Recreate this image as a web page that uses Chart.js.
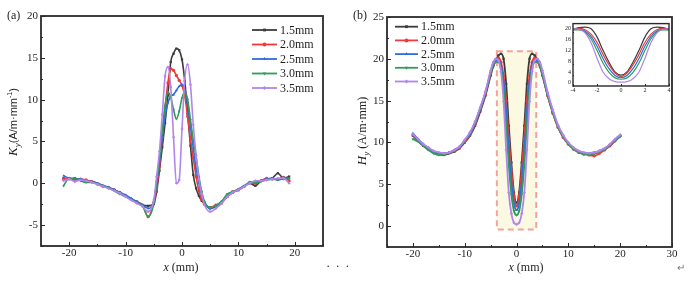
<!DOCTYPE html>
<html>
<head>
<meta charset="utf-8">
<script src="https://cdn.jsdelivr.net/npm/chart.js@4.4.0/dist/chart.umd.min.js"></script>
<style>
  html, body { margin: 0; padding: 0; background: #fff; }
  #wrap { position: relative; width: 700px; height: 288px; overflow: hidden; }
  .box { position: absolute; }
  .note { position: absolute; font-family: 'Liberation Serif', serif; color: #333; }
</style>
</head>
<body>
<div id="wrap">
  <div class="box" style="left:0;top:0"><canvas id="chartA" width="350" height="288"></canvas></div>
  <div class="box" style="left:350px;top:0"><canvas id="chartB" width="350" height="288"></canvas></div>
  <div class="box" style="left:555px;top:18px"><canvas id="chartInset" width="120" height="80"></canvas></div>
  <div class="note" style="left:326px;top:258px;font-size:13px;letter-spacing:1px">· · ·</div>
  <div class="note" style="left:677px;top:262px;font-size:10px;color:#777">↵</div>
</div>
<script>
// ---------- data ----------
const gaps = ['1.5mm', '2.0mm', '2.5mm', '3.0mm', '3.5mm'];

// (a) Ky vs x
const xA = [-21,-20,-19,-18,-17,-16,-15,-14,-13,-12,-11,-10,-9,-8,-7,-6,-5,
  -4.5,-4,-3.5,-3,-2.5,-2,-1.5,-1,-0.5,0,0.5,1,1.5,2,2.5,3,3.5,4,
  5,6,7,8,9,10,11,12,13,14,15,16,17,18,19];
const ky15 = [0.6,0.5,0.6,0.4,0.3,0.2,0.0,-0.3,-0.5,-0.8,-1.1,-1.5,-1.9,-2.3,-2.6,-2.7,-2.5,
  -1.0,1.5,4.3,7.2,10.5,14.5,15.5,16.1,15.9,14.8,12.2,8.3,4.5,1.0,-0.6,-1.5,-2.1,-2.5,
  -3.0,-2.8,-2.4,-1.6,-1.1,-0.8,-0.4,0.0,-0.3,0.3,0.5,0.6,1.2,0.6,0.8];
const ky20 = [0.5,0.6,0.4,0.5,0.4,0.2,-0.1,-0.4,-0.5,-0.8,-1.2,-1.5,-1.9,-2.2,-2.6,-4.0,-2.3,
  -0.5,2.0,5.5,9.0,12.0,13.7,13.5,12.9,12.3,11.7,10.4,8.0,5.3,3.0,0.8,-0.9,-1.9,-2.5,
  -2.9,-2.6,-2.3,-1.6,-1.0,-0.8,-0.4,0.1,0.0,0.3,0.6,0.5,0.5,0.7,0.3];
const ky25 = [0.9,0.6,0.5,0.5,0.3,0.2,0.0,-0.3,-0.5,-0.8,-1.1,-1.4,-1.8,-2.2,-2.6,-3.0,-2.2,
  0.0,2.5,5.5,8.0,9.6,10.4,10.6,11.1,11.6,11.8,11.2,9.5,6.8,4.2,1.8,0.0,-1.4,-2.3,
  -3.0,-2.7,-2.2,-1.5,-1.1,-0.7,-0.3,0.1,0.2,0.3,0.5,0.6,0.4,0.7,0.6];
const ky30 = [-0.3,0.6,0.6,0.3,0.1,0.1,-0.1,-0.3,-0.6,-0.9,-1.3,-1.6,-2.0,-2.3,-2.7,-4.0,-2.4,
  0.2,3.0,6.3,9.3,10.9,10.3,8.8,7.7,8.6,10.2,10.9,10.0,7.6,5.2,3.2,0.8,-1.0,-2.2,
  -2.9,-2.7,-2.2,-1.3,-1.0,-0.7,-0.4,0.1,0.1,0.2,0.4,0.5,0.4,0.5,0.5];
const ky35 = [0.3,0.5,0.2,0.4,0.3,0.1,-0.1,-0.4,-0.6,-0.9,-1.2,-1.6,-2.0,-2.4,-2.8,-3.4,-2.0,
  0.8,3.8,8.2,12.8,13.9,11.5,5.5,0.0,0.4,6.5,12.5,14.2,11.8,7.0,3.3,0.5,-1.3,-2.6,
  -3.4,-3.0,-2.4,-1.6,-1.1,-0.8,-0.4,0.0,0.3,0.3,0.4,0.5,0.6,0.6,0.0];
const xTicksA = [-20, -10, 0, 10, 20];
const yTicksA = [-5, 0, 5, 10, 15, 20];

// (b) Hy vs x
const xB = [-20,-19,-18,-17,-16,-15,-14,-13,-12,-11,-10,-9,-8,-7,-6,-5,
  -4.5,-4,-3.5,-3,-2.5,-2,-1.5,-1,-0.5,0,0.5,1,1.5,2,2.5,3,3.5,4,4.5,
  5,6,7,8,9,10,11,12,13,14,15,16,17,18,19,20];
const hy15 = [10.8,10.2,9.6,9.2,8.8,8.6,8.5,8.7,8.9,9.3,10.0,10.8,12.0,13.7,15.6,18.0,
  19.1,19.8,20.4,20.6,20.0,17.0,12.0,7.6,4.0,2.8,4.0,7.6,12.0,17.0,20.0,20.6,20.4,19.8,19.1,
  18.0,15.6,13.6,11.9,10.7,9.9,9.3,8.9,8.7,8.6,8.7,8.9,9.2,9.6,10.2,10.8];
const hy20 = [10.9,10.3,9.7,9.2,8.9,8.7,8.6,8.8,9.0,9.4,10.1,10.9,12.2,13.9,15.8,18.3,
  19.3,19.9,20.1,19.6,18.0,15.0,10.5,6.6,3.6,2.4,3.6,6.6,10.5,15.0,18.0,19.6,20.1,19.9,19.3,
  18.2,15.6,13.5,11.8,10.6,9.8,9.2,8.8,8.6,8.5,8.4,8.7,9.1,9.6,10.2,10.8];
const hy25 = [11.1,10.4,9.8,9.3,8.9,8.7,8.7,8.8,9.1,9.5,10.2,11.0,12.3,14.0,15.9,18.4,
  19.3,19.7,19.8,19.2,17.2,13.6,9.0,5.2,2.7,1.9,2.7,5.2,9.0,13.6,17.2,19.2,19.8,19.7,19.3,
  18.3,15.8,13.7,11.9,10.7,9.9,9.3,8.9,8.7,8.7,8.8,9.0,9.3,9.7,10.3,10.9];
const hy30 = [10.4,10.1,9.6,9.1,8.7,8.5,8.6,8.8,9.0,9.5,10.2,11.1,12.4,14.1,16.0,18.3,
  19.2,19.6,19.6,18.8,16.3,12.0,7.3,3.8,1.8,1.3,1.8,3.8,7.3,12.0,16.3,18.8,19.6,19.6,19.2,
  18.2,15.7,13.6,11.9,10.7,9.8,9.2,8.8,8.6,8.6,8.7,8.9,9.2,9.7,10.2,10.7];
const hy35 = [11.0,10.4,9.8,9.4,9.0,8.8,8.7,8.8,9.1,9.5,10.3,11.2,12.5,14.2,16.1,18.6,
  19.6,20.0,19.8,18.5,14.9,9.1,4.0,1.5,0.4,0.2,0.4,1.5,4.0,9.1,14.9,18.5,19.8,20.0,19.6,
  18.6,16.0,13.9,12.1,10.9,10.0,9.4,9.0,8.8,8.7,8.8,9.0,9.3,9.8,10.4,10.9];
const xTicksB = [-20, -10, 0, 10, 20, 30];
const yTicksB = [0, 5, 10, 15, 20, 25];
const zoomBoxX = [-3.8, 3.8];
const zoomBoxY = [-0.4, 20.9];
const xTicksInset = [-4, -2, 0, 2, 4];
const yTicksInset = [0, 4, 8, 12, 16, 20];

// ---------- style ----------
const colors = ['#3c3c3c', '#f03a3a', '#2b6fdc', '#2f9d5a', '#b385ec'];
const markers = ['rect', 'circle', 'triangle', 'triangle', 'rectRot'];
const markerRot = [0, 0, 0, 180, 0];
const serif = "'Liberation Serif', 'Times New Roman', serif";

Chart.defaults.font.family = serif;
Chart.defaults.color = '#1e1e1e';
Chart.defaults.animation = false;

const pts = (xs, ys) => xs.map((x, i) => ({ x, y: ys[i] }));

function makeSets(xs, list, radius, width) {
  return list.map((ys, i) => ({
    label: gaps[i],
    data: pts(xs, ys),
    borderColor: colors[i],
    backgroundColor: colors[i],
    borderWidth: width,
    pointStyle: markers[i],
    rotation: markerRot[i],
    pointRadius: radius,
    pointBorderWidth: 0,
    cubicInterpolationMode: 'monotone',
    order: 5 - i
  }));
}

// frame, inward ticks, titles, legend, zoom box
const decor = {
  id: 'decor',
  beforeDatasetsDraw(chart, args, o) {
    if (!o.box) return;
    const { ctx, scales: { x, y } } = chart;
    const l = x.getPixelForValue(o.box.x[0]), r = x.getPixelForValue(o.box.x[1]);
    const t = y.getPixelForValue(o.box.y[1]), b = y.getPixelForValue(o.box.y[0]);
    ctx.save();
    ctx.fillStyle = '#fcf9e2';
    ctx.fillRect(l, t, r - l, b - t);
    ctx.setLineDash([6, 4]);
    ctx.strokeStyle = '#f5a29c';
    ctx.lineWidth = 2;
    ctx.strokeRect(l, t, r - l, b - t);
    ctx.restore();
  },
  afterDraw(chart, args, o) {
    const { ctx, chartArea: a, scales: { x, y } } = chart;
    ctx.save();
    ctx.strokeStyle = '#2a2a2a';
    ctx.lineWidth = 1;
    const isMajor = (v, m) => Math.abs(v / m - Math.round(v / m)) < 1e-6;
    ctx.beginPath();
    for (let v = x.min; v <= x.max + 1e-9; v += o.xStep) {
      const px = Math.round(x.getPixelForValue(v)) + 0.5;
      const len = isMajor(v, o.xMajor) ? o.tick : o.tick / 2;
      ctx.moveTo(px, a.bottom); ctx.lineTo(px, a.bottom - len);
    }
    for (let v = y.min; v <= y.max + 1e-9; v += o.yStep) {
      const py = Math.round(y.getPixelForValue(v)) + 0.5;
      const len = isMajor(v, o.yMajor) ? o.tick : o.tick / 2;
      ctx.moveTo(a.left, py); ctx.lineTo(a.left + len, py);
    }
    ctx.stroke();
    ctx.lineWidth = o.frame;
    ctx.strokeRect(a.left, a.top, a.right - a.left, a.bottom - a.top);

    ctx.fillStyle = '#1e1e1e';
    if (o.tag) {
      ctx.font = '12px ' + serif;
      ctx.textBaseline = 'middle';
      ctx.textAlign = 'left';
      ctx.fillText(o.tag.text, o.tag.x, o.tag.y);
    }
    const drawParts = (parts) => {
      let w = 0;
      parts.forEach(p => { ctx.font = p[1]; w += ctx.measureText(p[0]).width; });
      let cx = -w / 2;
      ctx.textAlign = 'left';
      ctx.textBaseline = 'alphabetic';
      parts.forEach(p => {
        ctx.font = p[1];
        ctx.fillText(p[0], cx, 4 + (p[2] || 0));
        cx += ctx.measureText(p[0]).width;
      });
    };
    if (o.yTitle) {
      ctx.save();
      ctx.translate(o.yTitle.x, o.yTitle.y);
      ctx.rotate(-Math.PI / 2);
      drawParts(o.yTitle.parts);
      ctx.restore();
    }
    if (o.xTitle) {
      ctx.save();
      ctx.translate(o.xTitle.x, o.xTitle.y);
      drawParts(o.xTitle.parts);
      ctx.restore();
    }
    if (o.legend) {
      const L = o.legend;
      chart.data.datasets.forEach((ds, i) => {
        const yy = L.y0 + i * L.dy;
        ctx.strokeStyle = ds.borderColor;
        ctx.fillStyle = ds.borderColor;
        ctx.lineWidth = 1.8;
        ctx.beginPath();
        ctx.moveTo(L.x0, yy); ctx.lineTo(L.x1, yy);
        ctx.stroke();
        Chart.helpers.drawPoint(ctx, { pointStyle: ds.pointStyle, radius: 2, rotation: ds.rotation, borderWidth: 0 }, (L.x0 + L.x1) / 2, yy);
        ctx.fillStyle = '#1e1e1e';
        ctx.font = '12px ' + serif;
        ctx.textAlign = 'left';
        ctx.textBaseline = 'middle';
        ctx.fillText(ds.label, L.x1 + 3, yy + 0.5);
      });
    }
    ctx.restore();
  }
};

function axes(cfg) {
  const tickFont = { size: cfg.font, family: serif };
  return {
    x: {
      type: 'linear', min: cfg.xMin, max: cfg.xMax,
      afterBuildTicks: s => { s.ticks = cfg.xTicks.map(v => ({ value: v })); },
      afterFit: s => { s.height = cfg.xH; },
      grid: { display: false, drawTicks: false },
      border: { display: false },
      ticks: { padding: cfg.xPad, font: tickFont, autoSkip: false, maxRotation: 0 }
    },
    y: {
      type: 'linear', min: cfg.yMin, max: cfg.yMax,
      afterBuildTicks: s => { s.ticks = cfg.yTicks.map(v => ({ value: v })); },
      afterFit: s => { s.width = cfg.yW; },
      grid: { display: false, drawTicks: false },
      border: { display: false },
      ticks: { padding: cfg.yPad, font: tickFont, autoSkip: false }
    }
  };
}

const noDefaults = { legend: { display: false }, tooltip: { enabled: false } };

// ---------- (a) ----------
new Chart(document.getElementById('chartA'), {
  type: 'line',
  data: { datasets: makeSets(xA, [ky15, ky20, ky25, ky30, ky35], 1.6, 1.6) },
  options: {
    responsive: false,
    layout: { padding: { left: 0, right: 27, top: 16, bottom: 0 } },
    scales: axes({ xMin: -25, xMax: 25, xTicks: xTicksA, xH: 42, xPad: 1,
                   yMin: -7.5, yMax: 20, yTicks: yTicksA, yW: 41, yPad: 3, font: 11 }),
    plugins: {
      ...noDefaults,
      decor: {
        xStep: 5, xMajor: 10, yStep: 2.5, yMajor: 5, tick: 4, frame: 1.8,
        tag: { text: '(a)', x: 7, y: 16 },
        yTitle: { x: 13, y: 122, parts: [
          ['K', 'italic 13px ' + serif], ['y', 'italic 9px ' + serif, 3],
          ['(A/m·mm', "11px 'Liberation Sans', sans-serif"], ['-1', "7px 'Liberation Sans', sans-serif", -5],
          [')', "11px 'Liberation Sans', sans-serif"]] },
        xTitle: { x: 181, y: 267, parts: [['x', 'italic 12px ' + serif], [' (mm)', '12px ' + serif]] },
        legend: { x0: 252, x1: 277, y0: 30, dy: 14.5 }
      }
    }
  },
  plugins: [decor]
});

// ---------- (b) ----------
new Chart(document.getElementById('chartB'), {
  type: 'line',
  data: { datasets: makeSets(xB, [hy15, hy20, hy25, hy30, hy35], 1.6, 1.8) },
  options: {
    responsive: false,
    layout: { padding: { left: 0, right: 28, top: 17, bottom: 0 } },
    scales: axes({ xMin: -25, xMax: 30, xTicks: xTicksB, xH: 41, xPad: 1,
                   yMin: -2.5, yMax: 25, yTicks: yTicksB, yW: 37, yPad: 3, font: 11 }),
    plugins: {
      ...noDefaults,
      decor: {
        xStep: 5, xMajor: 10, yStep: 2.5, yMajor: 5, tick: 4, frame: 1.8,
        box: { x: zoomBoxX, y: zoomBoxY },
        tag: { text: '(b)', x: 3, y: 16 },
        yTitle: { x: 12, y: 131, parts: [
          ['H', 'italic 13px ' + serif], ['y', 'italic 9px ' + serif, 3],
          [' (A/m·mm)', '12px ' + serif]] },
        xTitle: { x: 176, y: 267, parts: [['x', 'italic 12px ' + serif], [' (mm)', '12px ' + serif]] },
        legend: { x0: 45, x1: 68, y0: 26.7, dy: 13.7 }
      }
    }
  },
  plugins: [decor]
});

// ---------- inset ----------
new Chart(document.getElementById('chartInset'), {
  type: 'line',
  data: { datasets: makeSets(xB, [hy15, hy20, hy25, hy30, hy35], 0, 1.2) },
  options: {
    responsive: false,
    layout: { padding: { left: 0, right: 6, top: 4, bottom: 0 } },
    scales: axes({ xMin: -4, xMax: 4, xTicks: xTicksInset, xH: 12, xPad: 1,
                   yMin: -1.2, yMax: 21.9, yTicks: yTicksInset, yW: 18, yPad: 2, font: 6 }),
    plugins: {
      ...noDefaults,
      decor: { xStep: 2, xMajor: 2, yStep: 4, yMajor: 4, tick: 2, frame: 1.4 }
    }
  },
  plugins: [decor]
});
</script>
</body>
</html>
